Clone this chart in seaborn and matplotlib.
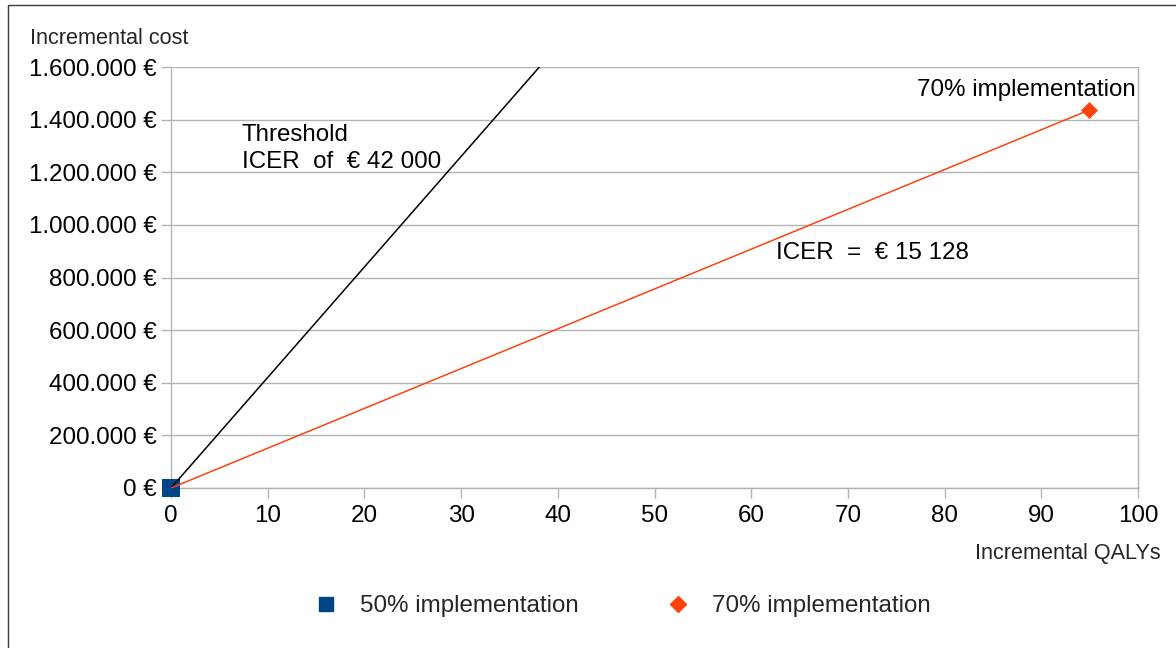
import matplotlib
matplotlib.use("Agg")
import matplotlib.pyplot as plt
from matplotlib.lines import Line2D
from matplotlib.patches import Rectangle
from matplotlib.ticker import FuncFormatter, MultipleLocator
import pandas as pd
import seaborn as sns

# Scenarios: incremental QALYs and incremental cost versus the reference
scenarios = ["50% implementation", "70% implementation"]
incremental_qalys = [0.0, 94.9]
incremental_cost = [0.0, 1_435_650.0]
icer_value = 15_128
threshold_icer = 42_000

x_ticks = list(range(0, 101, 10))
y_max = 1_600_000

sns.set_theme(style="white")
plt.rcParams["font.family"] = ["Liberation Sans", "DejaVu Sans"]

fig = plt.figure(figsize=(11.76, 6.48), dpi=100)
ax = fig.add_axes([171 / 1176, 1 - 488 / 648, (1138 - 171) / 1176, (488 - 67) / 648])

grid_col = "#b3b3b3"
blue = "#004586"
orange = "#ff420e"
marker_map = {scenarios[0]: "s", scenarios[1]: "D"}
color_map = {scenarios[0]: blue, scenarios[1]: orange}
size_map = {scenarios[0]: 160, scenarios[1]: 75}
zorder_map = {scenarios[0]: 4, scenarios[1]: 6}

# Willingness-to-pay threshold line through the origin
thr_x = [0.0, y_max / threshold_icer]
thr_y = [0.0, y_max]
sns.lineplot(x=thr_x, y=thr_y, ax=ax, color="black", lw=1.1, sort=False, zorder=5)

# Line from origin to the 70% scenario
sns.lineplot(x=incremental_qalys, y=incremental_cost, ax=ax, color=orange, lw=1.1,
             sort=False, zorder=5)

df = pd.DataFrame({"qaly": incremental_qalys, "cost": incremental_cost, "scenario": scenarios})
for name, sub in df.groupby("scenario"):
    sns.scatterplot(data=sub, x="qaly", y="cost", marker=marker_map[name],
                    color=color_map[name], s=size_map[name], linewidth=0,
                    ax=ax, legend=False, clip_on=False, zorder=zorder_map[name])

ax.set_xlim(0, 100)
ax.set_ylim(0, y_max)
ax.set_xticks(x_ticks)
ax.yaxis.set_major_locator(MultipleLocator(200_000))


def euro(v, _):
    if v == 0:
        return "0 €"
    return f"{int(v):,} €".replace(",", ".")


ax.yaxis.set_major_formatter(FuncFormatter(euro))
ax.set_xlabel("")
ax.set_ylabel("")

ax.grid(axis="y", color=grid_col, lw=1.0)
ax.grid(axis="x", visible=False)
for side in ["left", "bottom", "right"]:
    ax.spines[side].set_visible(True)
    ax.spines[side].set_color(grid_col)
    ax.spines[side].set_linewidth(1.0)
ax.spines["top"].set_visible(False)
ax.set_axisbelow(True)

ax.tick_params(axis="both", which="major", direction="out", length=7, width=1.0,
               color=grid_col, labelsize=17.4, labelcolor="black")
ax.tick_params(axis="x", pad=5, bottom=True)
ax.tick_params(axis="y", pad=3, left=True)

# Annotations
ax.text(7.3, 1_382_000, "Threshold\nICER  of  € 42 000", fontsize=17.4, ha="left",
        va="top", linespacing=1.3, color="black")
ax.text(62.6, 893_000, f"ICER  =  € {icer_value // 1000} {icer_value % 1000:03d}",
        fontsize=17.4, ha="left", va="center", color="black")
ax.text(99.8, 1_512_000, scenarios[1], fontsize=17.4, ha="right", va="center",
        color="black", clip_on=False)

fig.text(30 / 1176, 1 - 38 / 648, "Incremental cost", fontsize=15.6, ha="left", va="center")
fig.text(1161 / 1176, 1 - 554 / 648, "Incremental QALYs", fontsize=15.6, ha="right", va="center")

# Legend
handles = [
    Line2D([], [], marker=marker_map[s], ls="none", color=color_map[s],
           ms=10.5 if s == scenarios[0] else 8)
    for s in scenarios
]
fig.legend(handles, scenarios, loc="center", bbox_to_anchor=(622 / 1176, 1 - 606 / 648),
           ncol=2, frameon=False, fontsize=17.4, handletextpad=0.9, columnspacing=3.62,
           handlelength=1.0)

# Chart frame
fig.patches.append(Rectangle((8 / 1176, -0.1), 1.2, 0.1 + (1 - 5 / 648), transform=fig.transFigure,
                             fill=False, edgecolor="#3c3c3c", lw=1.0))

fig.savefig("out.png", dpi=100, facecolor="white")
